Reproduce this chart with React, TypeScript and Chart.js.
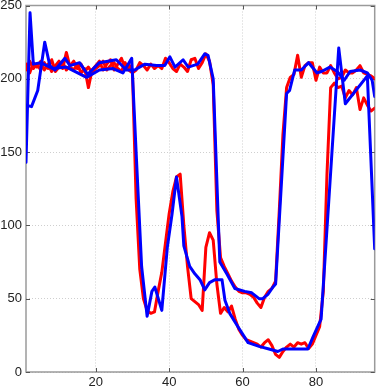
import { useEffect, useRef } from "react";
import { Chart, registerables } from "chart.js";

Chart.register(...registerables);

const xTicks = [20, 40, 60, 80];
const yTicks = [0, 50, 100, 150, 200, 250];

// red series sampled at x = 1..96
const redP = [
  210, 204, 211, 208, 212, 206, 210, 205, 209, 212, 207, 218, 208, 206, 210, 204,
  207, 194, 206, 209, 212, 206, 210, 213, 206, 210, 214, 207, 210, 205, 118, 70,
  50, 42, 40, 41, 55, 68, 88, 108, 123, 133, 135, 100, 72, 50, 48, 46,
  42, 85, 95, 90, 60, 40, 44, 41, 45, 36, 29, 25, 22, 21, 20, 19,
  17, 20, 22, 18, 12, 10, 14, 17, 19, 17, 20, 19, 20, 16, 19, 25,
  31, 55, 135, 194, 197, 194, 195, 187, 192, 189, 194, 179, 187, 182, 178, 180,
];
const redQ = [
  206, 212, 207, 210, 206, 211, 207, 213, 205, 208, 211, 206, 209, 212, 207, 210,
  205, 208, 204, 207, 209, 212, 206, 209, 211, 207, 205, 211, 206, 204, 206, 211,
  209, 206, 210, 207, 209, 207, 214, 211, 207, 205, 210, 208, 205, 213, 214, 207,
  211, 217, 212, 196, 110, 78, 72, 67, 62, 58, 55, 54, 54, 53, 51, 47,
  44, 51, 55, 57, 62, 110, 162, 194, 201, 203, 216, 201, 209, 211, 211, 199,
  208, 204, 204, 209, 204, 200, 201, 206, 204, 204, 206, 209, 204, 203, 202, 200,
];

// blue series (vertices)
const blueP_x = [
  1, 2.1, 3, 5, 8.3, 12, 17.5, 21, 24.7, 27.4, 29.8, 31, 32.5, 34, 35.3, 36.1,
  38, 39.5, 40.8, 42, 43.5, 44, 45.6, 47, 48.4, 49.7, 51, 52.5, 54.4, 55.2, 56.5, 58.7,
  61.5, 64.5, 67.2, 69.6, 71, 74.5, 77.8, 79.2, 81.4, 86.2, 88, 94, 96,
];
const blueP_y = [
  143, 245, 210, 211, 207, 208, 201, 206, 207, 204, 214, 150, 72, 38, 55, 58,
  42, 85, 108, 133, 106, 86, 72, 67, 63, 56, 61, 63, 63, 49, 40, 31,
  20, 17.5, 15.7, 14, 15.7, 15.7, 15.7, 24, 36, 221, 183, 202, 84,
];
const blueQ_x = [
  1, 2.5, 4.2, 6.1, 7.5, 8.9, 11.6, 13, 15.6, 17.8, 21, 25.6, 28.3, 30.6, 33.4, 36.6,
  38.8, 40.2, 41.6, 43.8, 45.2, 47.8, 49.7, 50.6, 52, 53.8, 55.7, 57.9, 60.6, 62.5, 64.5, 65.5,
  66.9, 68.3, 69, 72, 72.8, 74.2, 76, 78, 80.3, 81.5, 83.8, 85.8, 87.7, 89.3, 92, 94,
  95.3, 96,
];
const blueQ_y = [
  182, 181, 192, 225, 209, 206, 214, 209, 211, 203, 211, 213, 206, 206, 210, 209,
  209, 215, 208, 213, 208, 210, 217, 216, 200, 75, 67, 57, 55, 54, 50, 50,
  53, 58, 60, 190, 192, 206, 206, 211, 204, 205, 208, 205, 199, 205, 206, 204,
  199, 188,
];

const boxPlugin = {
  id: "matlabBox",
  beforeDatasetsDraw(chart: any) {
    const { ctx, chartArea: a, scales } = chart;
    ctx.save();
    ctx.strokeStyle = "#9a9a9a";
    ctx.lineWidth = 1.5;
    ctx.strokeRect(a.left, a.top, a.right - a.left, a.bottom - a.top);
    ctx.strokeStyle = "#555";
    ctx.lineWidth = 1;
    const L = 4;
    ctx.beginPath();
    for (const v of xTicks) {
      const px = Math.round(scales.x.getPixelForValue(v)) + 0.5;
      ctx.moveTo(px, a.bottom);
      ctx.lineTo(px, a.bottom - L);
      ctx.moveTo(px, a.top);
      ctx.lineTo(px, a.top + L);
    }
    for (const v of yTicks) {
      const py = Math.round(scales.y.getPixelForValue(v)) + 0.5;
      ctx.moveTo(a.left, py);
      ctx.lineTo(a.left + L, py);
      ctx.moveTo(a.right, py);
      ctx.lineTo(a.right - L, py);
    }
    ctx.stroke();
    ctx.restore();
  },
};

const font = { family: "'Liberation Sans', Arial, sans-serif", size: 13 };

export default function App() {
  const ref = useRef<HTMLCanvasElement>(null);
  useEffect(() => {
    document.body.style.margin = "0";
    const xy = (xs: number[], ys: number[]) => xs.map((x, i) => ({ x, y: ys[i] }));
    const idx = redP.map((_, i) => i + 1);
    const common = {
      borderWidth: 3,
      pointRadius: 0,
      tension: 0,
      fill: false,
      borderJoinStyle: "round" as const,
      borderCapStyle: "round" as const,
    };
    const chart = new Chart(ref.current as HTMLCanvasElement, {
      type: "line",
      data: {
        datasets: [
          { ...common, data: xy(blueQ_x, blueQ_y), borderColor: "#0000ff" },
          { ...common, data: xy(blueP_x, blueP_y), borderColor: "#0000ff" },
          { ...common, data: xy(idx, redQ), borderColor: "#ff0000" },
          { ...common, data: xy(idx, redP), borderColor: "#ff0000" },
        ],
      },
      options: {
        animation: false,
        responsive: false,
        events: [],
        plugins: { legend: { display: false }, tooltip: { enabled: false } },
        layout: { padding: { top: 5.5, right: 1.3, left: 0, bottom: 0 } },
        scales: {
          x: {
            type: "linear",
            min: 1,
            max: 96,
            afterBuildTicks: (s: any) => {
              s.ticks = xTicks.map((v) => ({ value: v }));
            },
            afterFit: (s: any) => {
              s.height = 17;
              s.paddingLeft = 0;
              s.paddingRight = 0;
            },
            grid: { color: "#cfcfcf", lineWidth: 1, drawTicks: false },
            border: { display: false, dash: [1, 2] },
            ticks: { padding: 3, font, color: "#222", maxRotation: 0 },
          },
          y: {
            type: "linear",
            min: 0,
            max: 250,
            afterBuildTicks: (s: any) => {
              s.ticks = yTicks.map((v) => ({ value: v }));
            },
            afterFit: (s: any) => {
              s.width = 26;
              s.paddingTop = 0;
              s.paddingBottom = 0;
            },
            grid: { color: "#cfcfcf", lineWidth: 1, drawTicks: false },
            border: { display: false, dash: [1, 2] },
            ticks: { padding: 4, font, color: "#222" },
          },
        },
      },
      plugins: [boxPlugin],
    });
    return () => chart.destroy();
  }, []);
  return (
    <div style={{ position: "absolute", left: 0, top: 0, width: 376, height: 389 }}>
      <canvas ref={ref} width={376} height={389} style={{ display: "block", width: 376, height: 389 }} />
    </div>
  );
}
